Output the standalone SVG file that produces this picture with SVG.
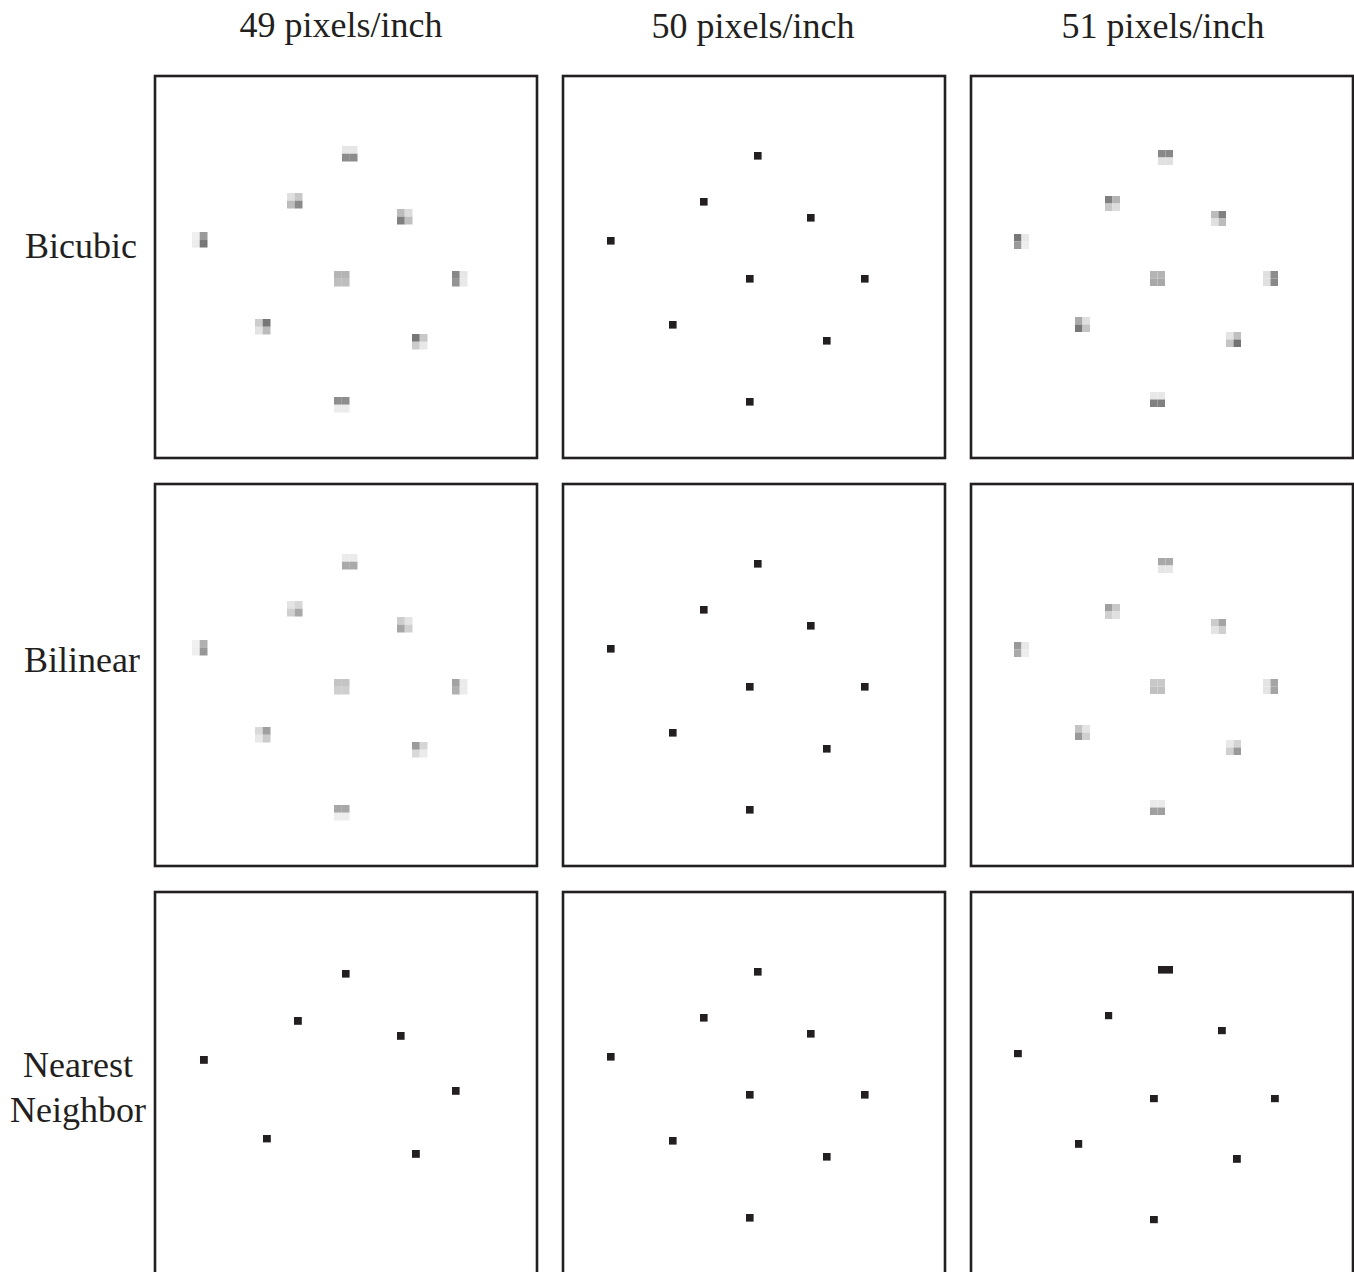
<svg xmlns="http://www.w3.org/2000/svg" width="1354" height="1272" viewBox="0 0 1354 1272">
<style>
.lbl{font-family:"Liberation Serif","Times New Roman",serif;font-size:36px;fill:#231f20;text-anchor:middle}
.frame{fill:#fff;stroke:#231f20;stroke-width:2.6}
.dot{fill:#231f20}
.c49 rect{width:7.8px;height:7.8px}
.c51 rect{width:7.5px;height:7.5px}
</style>
<rect x="0" y="0" width="1354" height="1272" fill="#fff"/>
<g id="col-labels">
<text class="lbl" x="341" y="37">49 pixels/inch</text>
<text class="lbl" x="753" y="38">50 pixels/inch</text>
<text class="lbl" x="1163" y="38">51 pixels/inch</text>
</g>
<g id="row-labels">
<text class="lbl" x="81" y="258">Bicubic</text>
<text class="lbl" x="82" y="672">Bilinear</text>
<text class="lbl" x="78" y="1077">Nearest</text>
<text class="lbl" x="78" y="1122">Neighbor</text>
</g>

<g id="bicubic-49">
<rect class="frame" x="155" y="76" width="382" height="382"/>
<g class="c49">
<g transform="translate(342,146)"><rect x="0" y="0" fill="#e6e6e6"/><rect x="7.7" y="0" fill="#e6e6e6"/><rect x="0" y="7.7" fill="#8c8c8c"/><rect x="7.7" y="7.7" fill="#8c8c8c"/></g>
<g transform="translate(287,193)"><rect x="0" y="0" fill="#e0e0e0"/><rect x="7.7" y="0" fill="#c8c8c8"/><rect x="0" y="7.7" fill="#bcbcbc"/><rect x="7.7" y="7.7" fill="#8a8a8a"/></g>
<g transform="translate(397,209)"><rect x="0" y="0" fill="#bcbcbc"/><rect x="7.7" y="0" fill="#dcdcdc"/><rect x="0" y="7.7" fill="#808080"/><rect x="7.7" y="7.7" fill="#c0c0c0"/></g>
<g transform="translate(192,232)"><rect x="0" y="0" fill="#f0f0f0"/><rect x="7.7" y="0" fill="#9a9a9a"/><rect x="0" y="7.7" fill="#ececec"/><rect x="7.7" y="7.7" fill="#787878"/></g>
<g transform="translate(334,271)"><rect x="0" y="0" fill="#b4b4b4"/><rect x="7.7" y="0" fill="#b4b4b4"/><rect x="0" y="7.7" fill="#bebebe"/><rect x="7.7" y="7.7" fill="#bebebe"/></g>
<g transform="translate(452,271)"><rect x="0" y="0" fill="#888888"/><rect x="7.7" y="0" fill="#e6e6e6"/><rect x="0" y="7.7" fill="#949494"/><rect x="7.7" y="7.7" fill="#e8e8e8"/></g>
<g transform="translate(255,319)"><rect x="0" y="0" fill="#cccccc"/><rect x="7.7" y="0" fill="#777777"/><rect x="0" y="7.7" fill="#e4e4e4"/><rect x="7.7" y="7.7" fill="#bbbbbb"/></g>
<g transform="translate(412,334)"><rect x="0" y="0" fill="#777777"/><rect x="7.7" y="0" fill="#c8c8c8"/><rect x="0" y="7.7" fill="#cccccc"/><rect x="7.7" y="7.7" fill="#e8e8e8"/></g>
<g transform="translate(334,397)"><rect x="0" y="0" fill="#8e8e8e"/><rect x="7.7" y="0" fill="#8e8e8e"/><rect x="0" y="7.7" fill="#ececec"/><rect x="7.7" y="7.7" fill="#ececec"/></g>
</g>
</g>

<g id="bicubic-50">
<rect class="frame" x="563" y="76" width="382" height="382"/>
<rect class="dot" x="754" y="152" width="7.6" height="7.6"/>
<rect class="dot" x="700" y="198" width="7.6" height="7.6"/>
<rect class="dot" x="807" y="214" width="7.6" height="7.6"/>
<rect class="dot" x="607" y="237" width="7.6" height="7.6"/>
<rect class="dot" x="746" y="275" width="7.6" height="7.6"/>
<rect class="dot" x="861" y="275" width="7.6" height="7.6"/>
<rect class="dot" x="669" y="321" width="7.6" height="7.6"/>
<rect class="dot" x="823" y="337" width="7.6" height="7.6"/>
<rect class="dot" x="746" y="398" width="7.6" height="7.6"/>
</g>

<g id="bicubic-51">
<rect class="frame" x="971" y="76" width="382" height="382"/>
<g class="c51">
<g transform="translate(1158,150)"><rect x="0" y="0" fill="#888888"/><rect x="7.5" y="0" fill="#888888"/><rect x="0" y="7.5" fill="#e0e0e0"/><rect x="7.5" y="7.5" fill="#e0e0e0"/></g>
<g transform="translate(1105,196)"><rect x="0" y="0" fill="#808080"/><rect x="7.5" y="0" fill="#b4b4b4"/><rect x="0" y="7.5" fill="#c8c8c8"/><rect x="7.5" y="7.5" fill="#dcdcdc"/></g>
<g transform="translate(1211,211)"><rect x="0" y="0" fill="#bcbcbc"/><rect x="7.5" y="0" fill="#808080"/><rect x="0" y="7.5" fill="#e0e0e0"/><rect x="7.5" y="7.5" fill="#bcbcbc"/></g>
<g transform="translate(1014,234)"><rect x="0" y="0" fill="#777777"/><rect x="7.5" y="0" fill="#e8e8e8"/><rect x="0" y="7.5" fill="#999999"/><rect x="7.5" y="7.5" fill="#eeeeee"/></g>
<g transform="translate(1150,271)"><rect x="0" y="0" fill="#b4b4b4"/><rect x="7.5" y="0" fill="#b4b4b4"/><rect x="0" y="7.5" fill="#a8a8a8"/><rect x="7.5" y="7.5" fill="#a8a8a8"/></g>
<g transform="translate(1263,271)"><rect x="0" y="0" fill="#e0e0e0"/><rect x="7.5" y="0" fill="#8c8c8c"/><rect x="0" y="7.5" fill="#e0e0e0"/><rect x="7.5" y="7.5" fill="#888888"/></g>
<g transform="translate(1075,317)"><rect x="0" y="0" fill="#aaaaaa"/><rect x="7.5" y="0" fill="#e0e0e0"/><rect x="0" y="7.5" fill="#777777"/><rect x="7.5" y="7.5" fill="#c4c4c4"/></g>
<g transform="translate(1226,332)"><rect x="0" y="0" fill="#e4e4e4"/><rect x="7.5" y="0" fill="#c0c0c0"/><rect x="0" y="7.5" fill="#c4c4c4"/><rect x="7.5" y="7.5" fill="#737373"/></g>
<g transform="translate(1150,392)"><rect x="0" y="0" fill="#e8e8e8"/><rect x="7.5" y="0" fill="#e8e8e8"/><rect x="0" y="7.5" fill="#808080"/><rect x="7.5" y="7.5" fill="#808080"/></g>
</g>
</g>

<g id="bilinear-49">
<rect class="frame" x="155" y="484" width="382" height="382"/>
<g class="c49">
<g transform="translate(342,554)"><rect x="0" y="0" fill="#ebebeb"/><rect x="7.7" y="0" fill="#ebebeb"/><rect x="0" y="7.7" fill="#a9a9a9"/><rect x="7.7" y="7.7" fill="#a9a9a9"/></g>
<g transform="translate(287,601)"><rect x="0" y="0" fill="#e4e4e4"/><rect x="7.7" y="0" fill="#d6d6d6"/><rect x="0" y="7.7" fill="#cfcfcf"/><rect x="7.7" y="7.7" fill="#a8a8a8"/></g>
<g transform="translate(397,617)"><rect x="0" y="0" fill="#cdcdcd"/><rect x="7.7" y="0" fill="#e4e4e4"/><rect x="0" y="7.7" fill="#a6a6a6"/><rect x="7.7" y="7.7" fill="#d0d0d0"/></g>
<g transform="translate(192,640)"><rect x="0" y="0" fill="#f0f0f0"/><rect x="7.7" y="0" fill="#b0b0b0"/><rect x="0" y="7.7" fill="#eeeeee"/><rect x="7.7" y="7.7" fill="#979797"/></g>
<g transform="translate(334,679)"><rect x="0" y="0" fill="#c4c4c4"/><rect x="7.7" y="0" fill="#c4c4c4"/><rect x="0" y="7.7" fill="#cfcfcf"/><rect x="7.7" y="7.7" fill="#cfcfcf"/></g>
<g transform="translate(452,679)"><rect x="0" y="0" fill="#a3a3a3"/><rect x="7.7" y="0" fill="#ebebeb"/><rect x="0" y="7.7" fill="#b0b0b0"/><rect x="7.7" y="7.7" fill="#ebebeb"/></g>
<g transform="translate(255,727)"><rect x="0" y="0" fill="#d9d9d9"/><rect x="7.7" y="0" fill="#a0a0a0"/><rect x="0" y="7.7" fill="#e8e8e8"/><rect x="7.7" y="7.7" fill="#cbcbcb"/></g>
<g transform="translate(412,742)"><rect x="0" y="0" fill="#9c9c9c"/><rect x="7.7" y="0" fill="#d6d6d6"/><rect x="0" y="7.7" fill="#d9d9d9"/><rect x="7.7" y="7.7" fill="#ebebeb"/></g>
<g transform="translate(334,805)"><rect x="0" y="0" fill="#a8a8a8"/><rect x="7.7" y="0" fill="#a8a8a8"/><rect x="0" y="7.7" fill="#eeeeee"/><rect x="7.7" y="7.7" fill="#eeeeee"/></g>
</g>
</g>

<g id="bilinear-50">
<rect class="frame" x="563" y="484" width="382" height="382"/>
<rect class="dot" x="754" y="560" width="7.6" height="7.6"/>
<rect class="dot" x="700" y="606" width="7.6" height="7.6"/>
<rect class="dot" x="807" y="622" width="7.6" height="7.6"/>
<rect class="dot" x="607" y="645" width="7.6" height="7.6"/>
<rect class="dot" x="746" y="683" width="7.6" height="7.6"/>
<rect class="dot" x="861" y="683" width="7.6" height="7.6"/>
<rect class="dot" x="669" y="729" width="7.6" height="7.6"/>
<rect class="dot" x="823" y="745" width="7.6" height="7.6"/>
<rect class="dot" x="746" y="806" width="7.6" height="7.6"/>
</g>

<g id="bilinear-51">
<rect class="frame" x="971" y="484" width="382" height="382"/>
<g class="c51">
<g transform="translate(1158,558)"><rect x="0" y="0" fill="#a8a8a8"/><rect x="7.5" y="0" fill="#a8a8a8"/><rect x="0" y="7.5" fill="#e6e6e6"/><rect x="7.5" y="7.5" fill="#e6e6e6"/></g>
<g transform="translate(1105,604)"><rect x="0" y="0" fill="#a0a0a0"/><rect x="7.5" y="0" fill="#c8c8c8"/><rect x="0" y="7.5" fill="#d0d0d0"/><rect x="7.5" y="7.5" fill="#e0e0e0"/></g>
<g transform="translate(1211,619)"><rect x="0" y="0" fill="#cbcbcb"/><rect x="7.5" y="0" fill="#a4a4a4"/><rect x="0" y="7.5" fill="#e4e4e4"/><rect x="7.5" y="7.5" fill="#cfcfcf"/></g>
<g transform="translate(1014,642)"><rect x="0" y="0" fill="#999999"/><rect x="7.5" y="0" fill="#e8e8e8"/><rect x="0" y="7.5" fill="#aaaaaa"/><rect x="7.5" y="7.5" fill="#eeeeee"/></g>
<g transform="translate(1150,679)"><rect x="0" y="0" fill="#c8c8c8"/><rect x="7.5" y="0" fill="#c8c8c8"/><rect x="0" y="7.5" fill="#c0c0c0"/><rect x="7.5" y="7.5" fill="#c0c0c0"/></g>
<g transform="translate(1263,679)"><rect x="0" y="0" fill="#e4e4e4"/><rect x="7.5" y="0" fill="#a4a4a4"/><rect x="0" y="7.5" fill="#e4e4e4"/><rect x="7.5" y="7.5" fill="#a4a4a4"/></g>
<g transform="translate(1075,725)"><rect x="0" y="0" fill="#c4c4c4"/><rect x="7.5" y="0" fill="#e4e4e4"/><rect x="0" y="7.5" fill="#999999"/><rect x="7.5" y="7.5" fill="#cfcfcf"/></g>
<g transform="translate(1226,740)"><rect x="0" y="0" fill="#e8e8e8"/><rect x="7.5" y="0" fill="#d4d4d4"/><rect x="0" y="7.5" fill="#d0d0d0"/><rect x="7.5" y="7.5" fill="#9a9a9a"/></g>
<g transform="translate(1150,800)"><rect x="0" y="0" fill="#eaeaea"/><rect x="7.5" y="0" fill="#eaeaea"/><rect x="0" y="7.5" fill="#a0a0a0"/><rect x="7.5" y="7.5" fill="#a0a0a0"/></g>
</g>
</g>

<g id="nearest-49">
<rect class="frame" x="155" y="892" width="382" height="382"/>
<rect class="dot" x="342" y="970" width="7.6" height="7.6"/>
<rect class="dot" x="294" y="1017" width="7.8" height="7.8"/>
<rect class="dot" x="397" y="1032" width="7.6" height="7.8"/>
<rect class="dot" x="200" y="1056" width="7.8" height="7.8"/>
<rect class="dot" x="452" y="1087" width="7.6" height="7.8"/>
<rect class="dot" x="263" y="1135" width="7.8" height="7.4"/>
<rect class="dot" x="412" y="1150" width="7.8" height="7.8"/>
</g>

<g id="nearest-50">
<rect class="frame" x="563" y="892" width="382" height="382"/>
<rect class="dot" x="754" y="968" width="7.6" height="7.6"/>
<rect class="dot" x="700" y="1014" width="7.6" height="7.6"/>
<rect class="dot" x="807" y="1030" width="7.6" height="7.6"/>
<rect class="dot" x="607" y="1053" width="7.6" height="7.6"/>
<rect class="dot" x="746" y="1091" width="7.6" height="7.6"/>
<rect class="dot" x="861" y="1091" width="7.6" height="7.6"/>
<rect class="dot" x="669" y="1137" width="7.6" height="7.6"/>
<rect class="dot" x="823" y="1153" width="7.6" height="7.6"/>
<rect class="dot" x="746" y="1214" width="7.6" height="7.6"/>
</g>

<g id="nearest-51">
<rect class="frame" x="971" y="892" width="382" height="382"/>
<rect class="dot" x="1158" y="966" width="15" height="7.6"/>
<rect class="dot" x="1105" y="1012" width="7.2" height="7.2"/>
<rect class="dot" x="1218" y="1027" width="7.8" height="7.2"/>
<rect class="dot" x="1014" y="1050" width="7.8" height="7.2"/>
<rect class="dot" x="1150" y="1095" width="7.8" height="7.2"/>
<rect class="dot" x="1271" y="1095" width="7.8" height="7.2"/>
<rect class="dot" x="1075" y="1140" width="7.2" height="7.8"/>
<rect class="dot" x="1233" y="1155" width="7.8" height="7.8"/>
<rect class="dot" x="1150" y="1216" width="7.8" height="7.2"/>
</g>
</svg>
